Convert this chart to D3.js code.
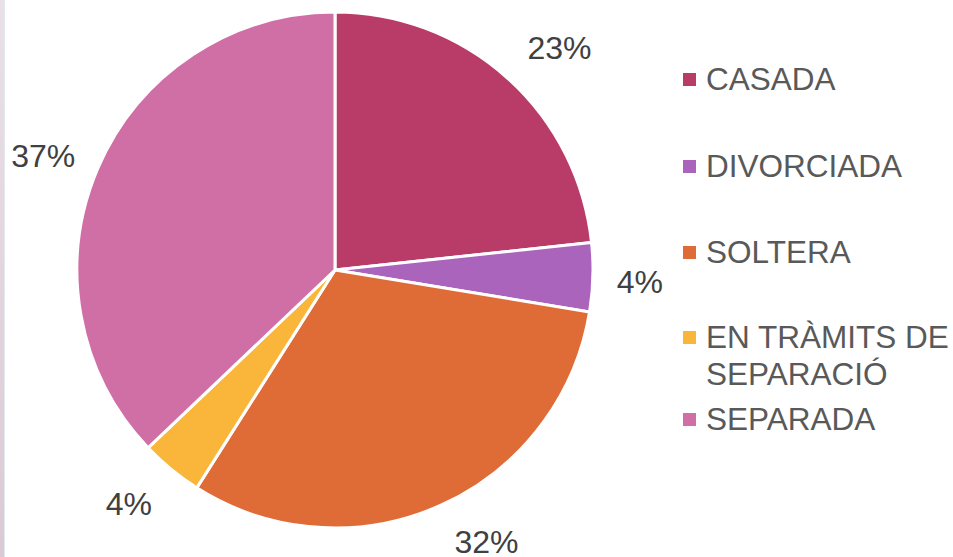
<!DOCTYPE html>
<html><head><meta charset="utf-8">
<script src="https://cdn.jsdelivr.net/npm/d3@7"></script>
<style>
html,body{margin:0;padding:0;background:#fff;}
svg{display:block;}
text{font-family:"Liberation Sans",Arial,sans-serif;}
</style></head>
<body>
<svg id="chart" width="953" height="557"></svg>
<script>
const categories = ["CASADA","DIVORCIADA","SOLTERA","EN TRÀMITS DE SEPARACIÓ","SEPARADA"];
const legendLines = [["CASADA"],["DIVORCIADA"],["SOLTERA"],["EN TRÀMITS DE","SEPARACIÓ"],["SEPARADA"]];
const values = [23.3, 4.3, 31.4, 3.9, 37.1];
const labels = ["23%","4%","32%","4%","37%"];
const colors = ["#b93c68","#aa64bc","#df6c37","#f9b63b","#d06ea6"];

// small label nudges (px) relative to the outside-arc centroid
const labelNudge = [[16,10],[-7,3],[24,-13],[-8,-8],[-5,8]];

const svg = d3.select("#chart");

// left edge band
const defs = svg.append("defs");
const lg = defs.append("linearGradient").attr("id","band").attr("x1",0).attr("y1",0).attr("x2",0).attr("y2",1);
lg.append("stop").attr("offset","0%").attr("stop-color","#ebe0e7");
lg.append("stop").attr("offset","100%").attr("stop-color","#dacad5");
svg.append("rect").attr("x",0).attr("y",0).attr("width",4).attr("height",557).attr("fill","url(#band)");
svg.append("rect").attr("x",4).attr("y",0).attr("width",1).attr("height",557).attr("fill","#e3e8ee");

const cx = 335, cy = 270, R = 258;
const pie = d3.pie().sort(null).value(d => d)(values);
const arc = d3.arc().innerRadius(0).outerRadius(R);
const labelArc = d3.arc().innerRadius(312).outerRadius(312);

const g = svg.append("g").attr("transform",`translate(${cx},${cy})`);
g.selectAll("path").data(pie).join("path")
  .attr("d", arc)
  .attr("fill", (d,i) => colors[i])
  .attr("stroke","#fff").attr("stroke-width",3).attr("stroke-linejoin","round");

g.selectAll("text.lbl").data(pie).join("text").attr("class","lbl")
  .attr("transform", (d,i) => {
    const c = labelArc.centroid(d);
    return `translate(${c[0]+labelNudge[i][0]},${c[1]+labelNudge[i][1]})`;
  })
  .attr("text-anchor","middle").attr("dy","0.36em")
  .attr("font-size",32).attr("fill","#404040")
  .text((d,i) => labels[i]);

// legend
const legY = [79, 166, 252, 337, 419];
const leg = svg.append("g");
legendLines.forEach((lines,i) => {
  leg.append("rect").attr("x",683).attr("y",legY[i]-6).attr("width",13).attr("height",13).attr("fill",colors[i]);
  const t = leg.append("text").attr("x",706).attr("y",legY[i])
    .attr("font-size",31.5).attr("fill","#595959");
  lines.forEach((ln,j) => {
    t.append("tspan").attr("x",706).attr("dy", j===0 ? "0.36em" : "1.17em").text(ln);
  });
});
</script>
</body></html>
